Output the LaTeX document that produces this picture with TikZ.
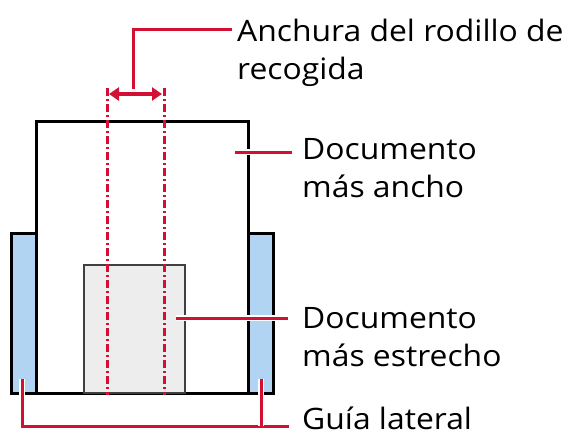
\documentclass[tikz,border=0pt]{standalone}
\usepackage{fontspec}
\setmainfont[FakeStretch=1.08]{Open Sans}
\usetikzlibrary{positioning, arrows.meta}
\definecolor{leadred}{RGB}{210,16,52}
\definecolor{guideblue}{RGB}{178,212,243}
\definecolor{paper}{RGB}{237,237,237}

\begin{document}
\begin{tikzpicture}[
          x=1pt, y=-1pt,
          sheet/.style={draw, line width=3pt, inner sep=0pt, anchor=north west},
          guide/.style={sheet, fill=guideblue, minimum width=25pt, minimum height=160pt},
          smallsheet/.style={draw=black!75, line width=2pt, fill=paper, inner sep=0pt, anchor=north west},
          rollerline/.style={leadred, line width=3pt, dash pattern=on 8pt off 3pt on 2pt off 3pt},
          rollerarrow/.style={leadred, line width=4pt, {Triangle[length=10pt,width=13pt]}-{Triangle[length=10pt,width=13pt]}},
          leader/.style={leadred, line width=3pt, preaction={draw=white, line width=5.5pt}},
          label/.style={anchor=base west, inner sep=0pt, font=\fontsize{29.5}{38.5}\selectfont},
          twolines/.style={label, align=left}
        ]
        \useasboundingbox (0,0) rectangle (574,434);

        % documents and side guides
        \node[sheet, minimum width=212pt, minimum height=272pt] (wide) at (35,120) {};
        \node[guide] (lguide) at (10,232) {};
        \node[guide] (rguide) at (247,232) {};
        \node[smallsheet, minimum width=101pt, minimum height=128pt] (narrow) at (83,264) {};

        % pick roller width
        \coordinate (rollA) at (107,88);
        \coordinate (rollB) at (164,88);
        \draw[rollerline] (rollA) -- (rollA |- wide.south);
        \draw[rollerline] (rollB) -- (rollB |- wide.south);
        \coordinate (arrA) at (109,94);
        \coordinate (arrB) at (162,94);
        \draw[rollerarrow] (arrA) -- (arrB);

        % labels (base = last line)
        \node[twolines] (roller) at (237,79.5) {Anchura del rodillo de\\recogida};
        \node[twolines] (widetxt) at (302,197.5) {Documento\\más ancho};
        \node[twolines] (narrowtxt) at (302,366.5) {Documento\\más estrecho};
        \node[label] (guidetxt) at (302,429.5) {Guía lateral};

        % leaders
        \coordinate (rollerend) at (232,29);
        \draw[leader] (133,89) |- (rollerend);
        \coordinate (wideend) at (292,152);
        \draw[leader] (235,152) -- (wideend);
        \coordinate (narrowend) at (288,318);
        \draw[leader] (176,318) -- (narrowend);
        \coordinate (lguidept) at (22,379);
        \coordinate (rguidept) at (261,379);
        \coordinate (guideend) at (289,426);
        \draw[leader] (lguidept) |- (guideend);
        \draw[leader] (rguidept) -- (rguidept |- guideend);

        \end{tikzpicture}
\end{document}
